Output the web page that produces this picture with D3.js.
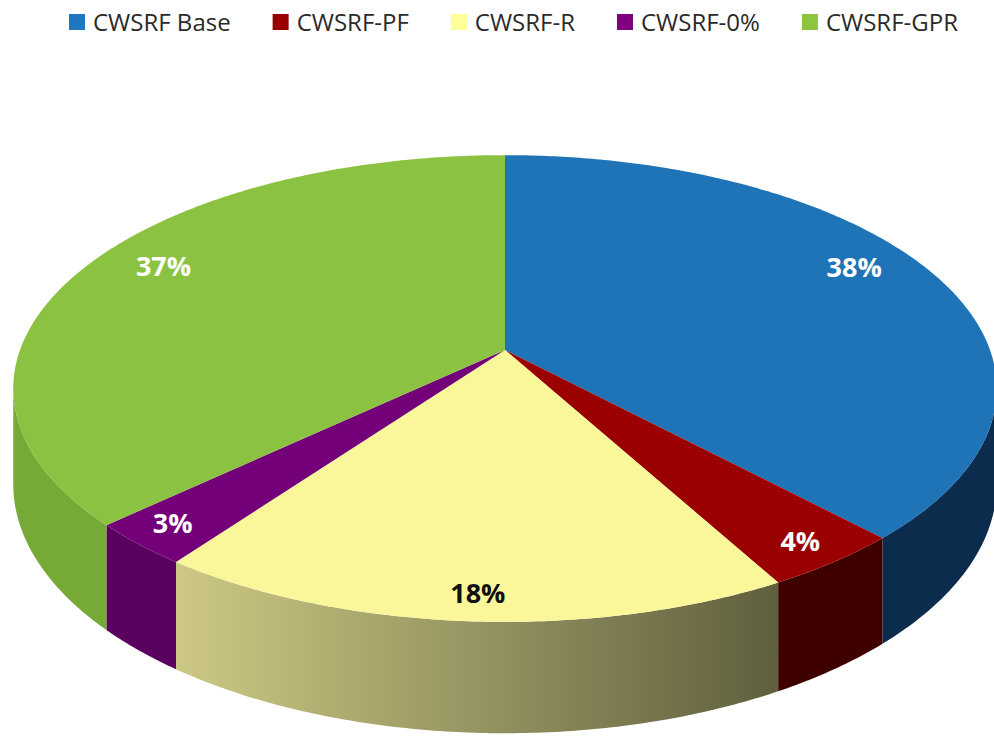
<!DOCTYPE html>
<html>
<head>
<meta charset="utf-8">
<script src="https://cdn.jsdelivr.net/npm/d3@7"></script>
<style>
  body { margin: 0; background: #fff; }
  svg { display: block; }
  .legend text { font-family: "Open Sans", sans-serif; font-size: 24px; fill: #2a2a2a; }
  .lbl { font-family: "Open Sans", sans-serif; font-size: 27px; font-weight: 700; }
</style>
</head>
<body>
<svg id="chart" width="994" height="736"></svg>
<script>
// data
var categories = ['CWSRF Base', 'CWSRF-PF', 'CWSRF-R', 'CWSRF-0%', 'CWSRF-GPR'];
var shares = [38, 4, 18, 3, 37];
var labels = ['38%', '4%', '18%', '3%', '37%'];

// colours
var topColor = ['#1f74b8', '#9b0000', '#faf79a', '#740079', '#8bc241'];
var sideColor = ['#0b2c4c', '#3f0000', 'url(#yellowSide)', '#5a005e', '#76a936'];
var legendColor = ['#1f77bf', '#990000', '#ffff99', '#7f007f', '#8cc63f'];
var labelColor = ['#fff', '#fff', '#111', '#fff', '#fff'];
// label placement inside each slice (angle in degrees, fraction of radius)
var labelAngle = [63, 144, 183, 222, 298];
var labelRadius = [0.86, 0.91, 0.91, 0.91, 0.85];

var svg = d3.select('#chart');

// perspective settings for the tilted disc
var cx = 505, cy = 350, sx = 485, sy = 227, persp = 0.165, depth = 93;

function proj(theta, r, down) {
    var X = r * Math.sin(theta);
    var Z = -r * Math.cos(theta);
    var w = 1 / (1 - persp * Z);
    return [cx + sx * X * w, cy + sy * Z * w + (down ? depth * w : 0)];
}

function arcPoints(a0, a1, down) {
    var n = Math.max(2, Math.ceil(Math.abs(a1 - a0) / 0.01));
    return d3.range(n + 1).map(function (i) {
        return proj(a0 + (a1 - a0) * i / n, 1, down);
    });
}

var pie = d3.pie().sort(null).value(function (d) { return d; });
var slices = pie(shares);
var line = d3.line();

// gradient for the front wall of the yellow slice
var defs = svg.append('defs');
var grad = defs.append('linearGradient')
    .attr('id', 'yellowSide')
    .attr('gradientUnits', 'userSpaceOnUse')
    .attr('x1', 175).attr('x2', 785).attr('y1', 0).attr('y2', 0);
grad.append('stop').attr('offset', '0%').attr('stop-color', '#cdc984');
grad.append('stop').attr('offset', '100%').attr('stop-color', '#5e5e3d');

// visible part of the outer wall: where the rim faces the viewer
var wallMin = Math.acos(-persp), wallMax = 2 * Math.PI - Math.acos(-persp);

var walls = svg.append('g');
slices.forEach(function (d, i) {
    var a0 = Math.max(d.startAngle, wallMin), a1 = Math.min(d.endAngle, wallMax);
    if (a1 <= a0) return;
    var pts = arcPoints(a0, a1, false).concat(arcPoints(a1, a0, true));
    walls.append('path')
        .attr('d', line(pts) + 'Z')
        .attr('fill', sideColor[i]);
});

var tops = svg.append('g');
slices.forEach(function (d, i) {
    var pts = [proj(0, 0, false)].concat(arcPoints(d.startAngle, d.endAngle, false));
    tops.append('path')
        .attr('d', line(pts) + 'Z')
        .attr('fill', topColor[i]);
});

// data labels
slices.forEach(function (d, i) {
    var p = proj(labelAngle[i] * Math.PI / 180, labelRadius[i], false);
    svg.append('text')
        .attr('class', 'lbl')
        .attr('x', p[0]).attr('y', p[1])
        .attr('text-anchor', 'middle')
        .attr('dominant-baseline', 'central')
        .attr('fill', labelColor[i])
        .text(labels[i]);
});

// legend across the top
var legend = svg.append('g').attr('class', 'legend');
var x = 69;
categories.forEach(function (c, i) {
    var g = legend.append('g').attr('transform', 'translate(' + x + ',0)');
    g.append('rect').attr('x', 0).attr('y', 14).attr('width', 16).attr('height', 16)
        .attr('fill', legendColor[i]);
    var t = g.append('text').attr('x', 24).attr('y', 31).text(c);
    x += 24 + t.node().getComputedTextLength() + 42;
});
</script>
</body>
</html>
